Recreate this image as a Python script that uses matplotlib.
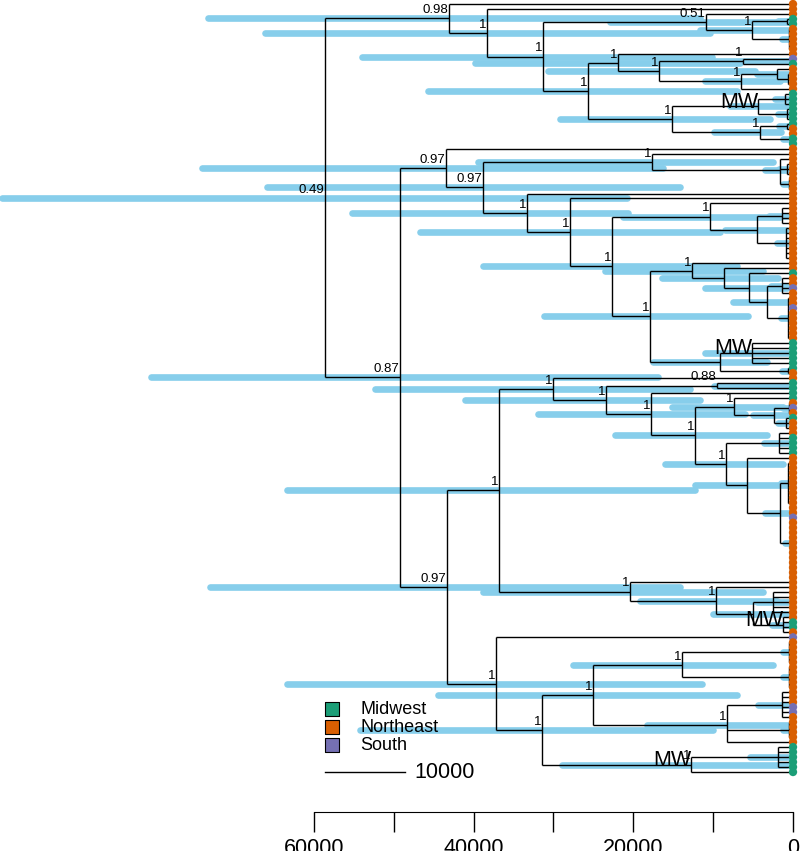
"""Dated phylogeny with node-age HPD bars and tip regions (Midwest / Northeast / South)."""

import matplotlib

matplotlib.use("Agg")
import matplotlib.pyplot as plt
from matplotlib.collections import LineCollection

plt.rcParams["font.family"] = ["Liberation Sans", "DejaVu Sans"]

N_TIPS = 155
REGION_NAMES = ["Midwest", "Northeast", "South"]
REGION_COLORS = ["#1B9E77", "#D95F02", "#7570B3"]
MIDWEST_TIPS = [3, 4, 12, 18, 19, 20, 21, 22, 23, 24, 27, 28, 54,
                68, 69, 70, 71, 72, 73, 76, 77, 78, 79, 83, 87, 88, 89, 90,
                124, 125, 149, 150, 151, 152, 153, 154]
SOUTH_TIPS = [11, 57, 61, 81, 103, 127, 141, 142]

# clades as tip ranges (inclusive), node age and 95% HPD in years before present
CLADE_FIRST = [0, 0, 1, 2, 2, 3, 3, 5, 10, 10, 11, 11, 13, 13, 14,
               18, 18, 18, 21, 24, 24, 26,
               29, 29, 30, 30, 31, 32, 35, 38, 39, 40, 40, 41, 41, 45,
               52, 52, 53, 54, 55, 55, 59, 68, 68, 73,
               75, 75, 75, 76, 76, 78, 79, 79, 80, 80, 83, 86, 86, 91, 92, 92, 101,
               116, 117, 118, 118, 123,
               127, 128, 128, 128, 128, 133, 138, 138, 144, 149, 149]
CLADE_LAST = [154, 28, 28, 28, 9, 9, 4, 9, 28, 17, 17, 12, 17, 16, 16,
              28, 23, 20, 23, 28, 25, 28,
              154, 74, 74, 37, 37, 34, 37, 74, 74, 74, 51, 51, 44, 51,
              74, 67, 67, 67, 67, 58, 67, 74, 72, 74,
              154, 126, 115, 115, 77, 115, 115, 85, 85, 82, 85, 115, 90, 115, 115, 100, 115,
              126, 126, 126, 122, 126,
              154, 154, 148, 137, 132, 137, 148, 143, 147, 154, 153]
CLADE_AGE = [58620, 43090, 38330, 31320, 10900, 5140, 750, 500, 25680, 21920, 16790, 6260, 6510, 2000, 630,
             15160, 4380, 1000, 750, 4130, 750, 400,
             49230, 43470, 38830, 17660, 1630, 750, 500, 33320, 27930, 22670, 10400, 4510, 1380, 880,
             17910, 12650, 8640, 5510, 3260, 1380, 630, 9140, 5140, 630,
             43340, 36830, 30060, 23420, 9520, 17790, 12280, 7390, 2380, 500, 880, 8390, 1750, 5760, 1630, 630, 380,
             20420, 9650, 5010, 2500, 1250,
             37200, 31440, 25050, 13900, 500, 500, 8270, 1380, 500, 12780, 1880]
HPD_OLD = [99080, 73280, 66140, 53990, 22920, 11650, 1900, 1400, 45720, 39830, 30690, 9770, 11020, 4500, 1500,
           29190, 7890, 2300, 1900, 9900, 1800, 1200,
           80420, 74030, 65890, 39460, 3500, 1700, 1300, 55240, 46720, 38830, 21290, 8500, 3000, 2000,
           31190, 23550, 16410, 11020, 7520, 2800, 1500, 17540, 11020, 1400,
           73030, 63380, 52360, 41090, 9900, 31940, 22300, 15160, 5000, 1200, 1900, 16030, 3600, 12280, 3500, 1500, 1000,
           38830, 19170, 10020, 4500, 2600,
           63380, 54240, 44470, 27560, 1300, 1300, 18290, 4380, 1300, 28940, 5390]
HPD_YOUNG = [20790, 11650, 10400, 10150, 380, 380, 0, 0, 7020, 6640, 4760, 630, 1630, 300, 0,
             2880, 630, 0, 0, 1500, 0, 0,
             16910, 16280, 14150, 2500, 0, 0, 0, 20670, 9140, 7020, 1630, 900, 0, 0,
             5640, 3760, 1880, 750, 100, 0, 0, 3260, 380, 0,
             14150, 12280, 12900, 11650, 380, 6010, 3260, 1250, 300, 0, 0, 1250, 100, 750, 0, 0, 0,
             3760, 2000, 750, 300, 0,
             11400, 10020, 7020, 2500, 0, 0, 750, 0, 0, 750, 0]
POSTERIOR = ["0.49", "0.98", "1", "1", "0.51", "1", "", "", "1", "1", "1", "1", "1", "", "",
             "1", "", "", "", "1", "", "",
             "0.87", "0.97", "0.97", "1", "", "", "", "1", "1", "1", "1", "", "", "",
             "1", "1", "", "", "", "", "", "", "", "",
             "0.97", "1", "1", "1", "0.88", "1", "1", "1", "", "", "", "1", "", "", "", "", "",
             "1", "1", "", "", "",
             "1", "1", "1", "1", "", "", "1", "", "", "1", ""]
MW_CLADES = [16, 44, 67, 77]
SCALE_YEARS = 10000
AXIS_TICKS = [0, 10000, 20000, 30000, 40000, 50000, 60000]
AXIS_LABELS = ["0", "", "20000", "", "40000", "", "60000"]


def build_tree():
    n = len(CLADE_FIRST)
    size = [CLADE_LAST[k] - CLADE_FIRST[k] for k in range(n)]

    def enclosing(first, last, skip=None):
        best = None
        for j in range(n):
            if j == skip:
                continue
            if CLADE_FIRST[j] <= first and last <= CLADE_LAST[j]:
                if best is None or size[j] < size[best]:
                    best = j
        return best

    children = {k: [] for k in range(n)}
    for k in range(n):
        p = enclosing(CLADE_FIRST[k], CLADE_LAST[k], skip=k)
        if p is not None:
            children[p].append(("clade", k, CLADE_FIRST[k]))
    for t in range(N_TIPS):
        children[enclosing(t, t)].append(("tip", t, t))
    for k in children:
        children[k].sort(key=lambda c: c[2])

    node_y = {}
    for k in sorted(range(n), key=lambda k: size[k]):
        ys = [c[1] if c[0] == "tip" else node_y[c[1]] for c in children[k]]
        node_y[k] = sum(ys) / len(ys)
    return children, node_y


def main():
    children, node_y = build_tree()

    fig = plt.figure(figsize=(8.0, 8.51), dpi=100)
    ax = fig.add_axes([0, 0, 1, 1])
    ax.set_xlim(99330, -877)
    ax.set_ylim(169.84, -0.802)

    # HPD bars
    bars = [[(HPD_OLD[k], node_y[k]), (HPD_YOUNG[k], node_y[k])] for k in node_y]
    ax.add_collection(LineCollection(bars, colors="#87CEEB", linewidths=4.8,
                                     capstyle="round", zorder=1))

    # tree edges
    segs = []
    for k, kids in children.items():
        ys = []
        for kind, idx, _ in kids:
            y = idx if kind == "tip" else node_y[idx]
            x0 = 0 if kind == "tip" else CLADE_AGE[idx]
            segs.append([(x0, y), (CLADE_AGE[k], y)])
            ys.append(y)
        segs.append([(CLADE_AGE[k], min(ys)), (CLADE_AGE[k], max(ys))])
    ax.add_collection(LineCollection(segs, colors="black", linewidths=1.0, zorder=2))

    # tip regions
    tip_col = []
    for t in range(N_TIPS):
        if t in MIDWEST_TIPS:
            tip_col.append(REGION_COLORS[0])
        elif t in SOUTH_TIPS:
            tip_col.append(REGION_COLORS[2])
        else:
            tip_col.append(REGION_COLORS[1])
    ax.scatter([0] * N_TIPS, range(N_TIPS), s=36, c=tip_col, linewidths=0, zorder=3)

    # posterior support
    for k in node_y:
        if POSTERIOR[k]:
            ax.annotate(POSTERIOR[k], (CLADE_AGE[k], node_y[k]), xytext=(-0.5, 1.5),
                        textcoords="offset points", ha="right", va="bottom",
                        fontsize=9.5, zorder=4)
    for k in MW_CLADES:
        ax.annotate("MW", (CLADE_AGE[k], node_y[k]), xytext=(0, 3),
                    textcoords="offset points", ha="right", va="center",
                    fontsize=15.5, zorder=4)

    # legend
    for i, (name, col) in enumerate(zip(REGION_NAMES, REGION_COLORS)):
        yy = 0.1668 - i * 0.0212
        ax.scatter([0.415], [yy], s=100, marker="s", c=col, edgecolors="black",
                   linewidths=0.8, transform=ax.transAxes, zorder=5)
        ax.text(0.45, yy, name, transform=ax.transAxes, ha="left", va="center",
                fontsize=13)

    # scale bar from the root, at the last tip
    root = CLADE_AGE.index(max(CLADE_AGE))
    ax.plot([CLADE_AGE[root], CLADE_AGE[root] - SCALE_YEARS], [N_TIPS - 1, N_TIPS - 1],
            color="black", linewidth=1.0)
    ax.annotate(str(SCALE_YEARS), (CLADE_AGE[root] - SCALE_YEARS, N_TIPS - 1),
                xytext=(7, 0), textcoords="offset points", ha="left", va="center",
                fontsize=15.5)

    # time axis
    for side in ("top", "left", "right"):
        ax.spines[side].set_visible(False)
    ax.spines["bottom"].set_position(("data", 162.02))
    ax.spines["bottom"].set_bounds(0, 60000)
    ax.set_xticks(AXIS_TICKS)
    ax.set_xticklabels(AXIS_LABELS)
    ax.tick_params(axis="x", direction="out", length=14.4, width=1.0,
                   labelsize=15.5, pad=4)
    ax.set_yticks([])
    ax.patch.set_visible(False)

    fig.savefig("out.png", dpi=100)


if __name__ == "__main__":
    main()
